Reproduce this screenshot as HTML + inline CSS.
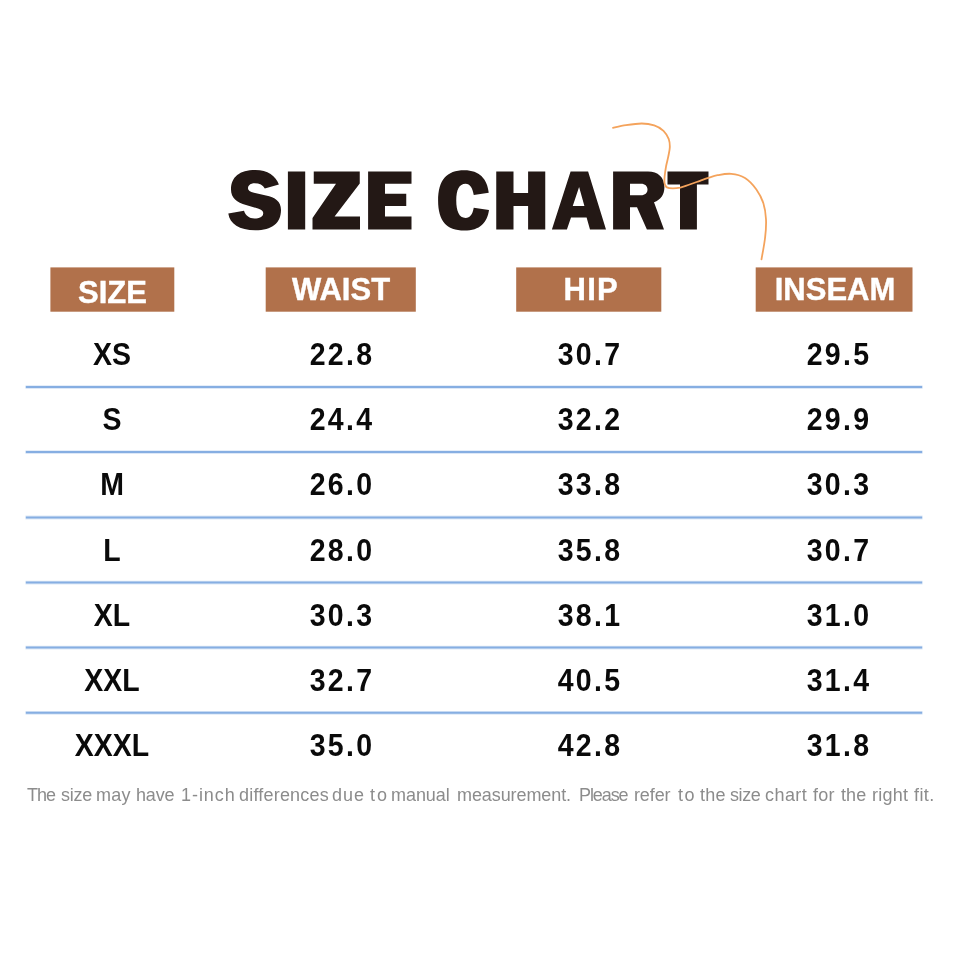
<!DOCTYPE html>
<html>
<head>
<meta charset="utf-8">
<title>Size Chart</title>
<style>
html,body{margin:0;padding:0;}
body{width:960px;height:960px;background:#fff;position:relative;overflow:hidden;font-family:"Liberation Sans",sans-serif;}
.abs{position:absolute;}
.hd{position:absolute;top:267px;height:45px;}
.hd span{will-change:transform;position:absolute;left:0;right:0;text-align:center;color:#fff;font-weight:bold;font-size:31px;line-height:30px;white-space:nowrap;transform:scaleY(1.01);transform-origin:50% 50%;-webkit-text-stroke:0.4px #fff;}
.ln{position:absolute;left:26px;width:896px;height:2px;background:#7fabe0;}
.c{will-change:transform;position:absolute;width:200px;text-align:center;font-weight:bold;font-size:28.5px;line-height:30px;color:#0a0a0a;white-space:nowrap;transform:translateY(-1px) scaleY(1.085);transform-origin:50% 50%;}
.n{letter-spacing:2.3px;}
.ft{position:absolute;left:0;top:0;}
.ft span{will-change:transform;position:absolute;top:783.6px;font-size:18px;line-height:22px;color:#8c8c8c;white-space:nowrap;transform:scaleY(1.07);transform-origin:0 17px;}
</style>
</head>
<body>
<div style="position:absolute;left:0;top:0;width:960px;height:960px;filter:blur(0.4px);">
<svg class="abs" style="left:0;top:0" width="960" height="960" viewBox="0 0 960 960">
<g fill="#231815" fill-rule="evenodd">
<path d="M278.9 184.5 C276 176 267.5 170 255.4 170 C239.5 170 231 177 231 189.5 C231 198 237 202.5 246 205 L258 208.5 C262 210 263.5 211.5 263.2 213.5 C263 217 259.5 218.5 254.5 218.5 C249 218.5 245.5 215.5 244 210.8 L228.3 213.6 C229.7 224 239.3 230.3 255.4 230.3 C272 230.3 281 223 281 210 C281 201 275 197.5 266 195.5 L254 192.8 C250 191.8 248 190.5 248 188.5 C248 185.5 250.5 183.3 254.5 183.3 C259.5 183.3 263 185 264.8 188.6 Z"/>
<path d="M287.9 171.6 H305.2 V229.4 H287.9 Z"/>
<path d="M313.75 171.6 H359.75 V183.5 L334.6 216.5 H360 V229.4 H312.5 V218 L336 183.75 H313.75 Z"/>
<path d="M368.1 171.6 H411.5 V183.75 H385 V193.75 H406.25 V206 H385 V216.5 H411.5 V229.4 H368.1 Z"/>
<path d="M488.75 192.75 C487.3 179 479.5 170.2 464.4 170.2 C446.5 170.2 438.1 180 438.1 200.6 C438.1 221 446.5 230.6 464.4 230.6 C480 230.6 487.3 222.5 489 210 L473.75 207.8 C472.5 214.5 470 218 465.6 218 C459 218 456.25 211 456.25 200.6 C456.25 190 459 183.75 465.6 183.75 C470 183.75 472.5 188 473.75 195 Z"/>
<path d="M496.25 171.6 H513.5 V193 H528.1 V171.6 H545.25 V229.4 H528.1 V206 H513.5 V229.4 H496.25 Z"/>
<path d="M551.9 229.4 L570.6 171.6 H588.1 L606 229.4 H590 L586.6 217.5 H571 L566.9 229.4 Z M572.75 206 H584.4 L579.1 186.9 Z"/>
<path d="M613.1 171.6 H648 C658 171.6 664.4 177.5 664.4 187 C664.4 194.5 661 199.5 654 202.3 L664 229.4 H646.9 L637 207.3 H630 V229.4 H613.1 Z M630 183.75 H641 C645 183.75 647.5 186 647.5 189.5 C647.5 193 645 195.25 641 195.25 H630 Z"/>
<path d="M667.5 171.6 H708.5 V184.6 H696.9 V229.4 H680 V184.6 H667.5 Z"/>
</g>
<path d="M613.0 127.9 C615.2 127.4 621.2 125.8 626.0 125.1 C630.8 124.4 637.0 123.5 641.7 123.5 C646.4 123.5 650.6 124.2 654.2 125.4 C657.8 126.6 661.1 128.5 663.5 130.8 C665.9 133.1 667.7 136.4 668.8 139.2 C669.8 142.0 669.9 144.6 669.8 147.5 C669.7 150.4 668.8 153.8 668.2 156.9 C667.6 160.0 666.7 162.9 666.1 166.2 C665.5 169.6 664.9 173.8 664.6 176.7 C664.4 179.6 664.2 181.7 664.6 183.5 C665.0 185.3 665.5 186.6 666.9 187.4 C668.3 188.2 670.7 188.4 672.9 188.4 C675.1 188.4 677.4 188.2 680.2 187.6 C683.0 186.9 686.3 185.6 689.6 184.5 C692.9 183.4 696.9 181.9 700.0 180.8 C703.1 179.7 705.4 178.8 708.3 177.9 C711.2 177.0 713.7 175.9 717.5 175.2 C721.3 174.5 726.6 173.4 731.2 173.8 C735.8 174.2 740.8 175.3 745.0 177.9 C749.2 180.5 753.4 185.2 756.4 189.4 C759.4 193.6 761.7 198.1 763.3 203.1 C764.9 208.1 765.7 213.5 766.0 219.2 C766.3 224.9 765.9 230.8 765.1 237.5 C764.4 244.2 762.1 255.7 761.5 259.3" fill="none" stroke="#f4a35c" stroke-width="1.8" stroke-linecap="round" stroke-linejoin="round"/>
<g fill="none" stroke-linecap="butt">
<path d="M25.5 387.1 H922.5" stroke="#86aee2" stroke-opacity="0.28" stroke-width="3.8"/>
<path d="M25.8 387.1 H922.2" stroke="#86aee2" stroke-width="2"/>
<path d="M25.5 452.1 H922.5" stroke="#86aee2" stroke-opacity="0.28" stroke-width="3.8"/>
<path d="M25.8 452.1 H922.2" stroke="#86aee2" stroke-width="2"/>
<path d="M25.5 517.5 H922.5" stroke="#86aee2" stroke-opacity="0.28" stroke-width="3.8"/>
<path d="M25.8 517.5 H922.2" stroke="#86aee2" stroke-width="2"/>
<path d="M25.5 582.6 H922.5" stroke="#86aee2" stroke-opacity="0.28" stroke-width="3.8"/>
<path d="M25.8 582.6 H922.2" stroke="#86aee2" stroke-width="2"/>
<path d="M25.5 647.6 H922.5" stroke="#86aee2" stroke-opacity="0.28" stroke-width="3.8"/>
<path d="M25.8 647.6 H922.2" stroke="#86aee2" stroke-width="2"/>
<path d="M25.5 712.8 H922.5" stroke="#86aee2" stroke-opacity="0.28" stroke-width="3.8"/>
<path d="M25.8 712.8 H922.2" stroke="#86aee2" stroke-width="2"/>
</g>
<g fill="#b1714b">
<rect x="50.4" y="267.4" width="123.9" height="44.3"/>
<rect x="265.7" y="267.4" width="150.1" height="44.3"/>
<rect x="516.2" y="267.4" width="145.1" height="44.3"/>
<rect x="755.7" y="267.4" width="156.8" height="44.3"/>
</g>
</svg>

<div class="hd" style="left:50px;width:124px;"><span style="top:11.2px;left:1px">SIZE</span></div>
<div class="hd" style="left:266px;width:150px;"><span style="top:7.8px">WAIST</span></div>
<div class="hd" style="left:516px;width:145px;"><span style="top:7.8px;letter-spacing:1.2px;left:4.5px">HIP</span></div>
<div class="hd" style="left:756px;width:156px;"><span style="top:7.8px;left:2px">INSEAM</span></div>


<div class="c" style="left:12px;top:340px">XS</div>
<div class="c n" style="left:242.4px;top:340px">22.8</div>
<div class="c n" style="left:490.4px;top:340px">30.7</div>
<div class="c n" style="left:739.2px;top:340px">29.5</div>

<div class="c" style="left:12px;top:405px">S</div>
<div class="c n" style="left:242.4px;top:405px">24.4</div>
<div class="c n" style="left:490.4px;top:405px">32.2</div>
<div class="c n" style="left:739.2px;top:405px">29.9</div>

<div class="c" style="left:12px;top:470px">M</div>
<div class="c n" style="left:242.4px;top:470px">26.0</div>
<div class="c n" style="left:490.4px;top:470px">33.8</div>
<div class="c n" style="left:739.2px;top:470px">30.3</div>

<div class="c" style="left:12px;top:536px">L</div>
<div class="c n" style="left:242.4px;top:536px">28.0</div>
<div class="c n" style="left:490.4px;top:536px">35.8</div>
<div class="c n" style="left:739.2px;top:536px">30.7</div>

<div class="c" style="left:12px;top:601px">XL</div>
<div class="c n" style="left:242.4px;top:601px">30.3</div>
<div class="c n" style="left:490.4px;top:601px">38.1</div>
<div class="c n" style="left:739.2px;top:601px">31.0</div>

<div class="c" style="left:12px;top:666px">XXL</div>
<div class="c n" style="left:242.4px;top:666px">32.7</div>
<div class="c n" style="left:490.4px;top:666px">40.5</div>
<div class="c n" style="left:739.2px;top:666px">31.4</div>

<div class="c" style="left:12px;top:731px">XXXL</div>
<div class="c n" style="left:242.4px;top:731px">35.0</div>
<div class="c n" style="left:490.4px;top:731px">42.8</div>
<div class="c n" style="left:739.2px;top:731px">31.8</div>

<div class="ft"><span style="left:26.6px;letter-spacing:-0.95px">The</span><span style="left:60.6px;letter-spacing:-0.23px">size</span><span style="left:96.3px;letter-spacing:0.20px">may</span><span style="left:136.3px;letter-spacing:-0.17px">have</span><span style="left:181.0px;letter-spacing:0.95px">1-inch</span><span style="left:238.5px;letter-spacing:0.20px">differences</span><span style="left:332.0px;letter-spacing:1.00px">due</span><span style="left:369.5px;letter-spacing:2.00px">to</span><span style="left:391.0px;letter-spacing:-0.05px">manual</span><span style="left:456.5px;letter-spacing:-0.09px">measurement.</span><span style="left:578.5px;letter-spacing:-1.10px">Please</span><span style="left:633.5px;letter-spacing:-0.12px">refer</span><span style="left:677.5px;letter-spacing:1.50px">to</span><span style="left:700.0px;letter-spacing:0.25px">the</span><span style="left:730.2px;letter-spacing:-0.42px">size</span><span style="left:765.2px;letter-spacing:0.44px">chart</span><span style="left:813.0px;letter-spacing:0.25px">for</span><span style="left:841.2px;letter-spacing:0.12px">the</span><span style="left:872.0px;letter-spacing:0.25px">right</span><span style="left:913.8px;letter-spacing:0.42px">fit.</span></div>
</div>
</body>
</html>
